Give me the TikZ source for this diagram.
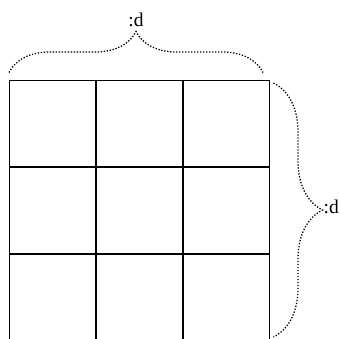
\documentclass[tikz,border=0pt]{standalone}
\usepackage{fontspec}
\setmainfont{Liberation Serif}
\usetikzlibrary{decorations.pathreplacing}
\begin{document}
\begin{tikzpicture}[x=1pt,y=1pt,
  gridline/.style={line width=1.7pt, line cap=rect},
  dotbrace/.style={decorate, line width=1.3pt, dash pattern=on 1.3pt off 1.7pt, line cap=butt},
  lbl/.style={inner sep=0pt, font=\fontsize{19.5}{22}\selectfont}]
\useasboundingbox (0,0) rectangle (339,338);
\begin{scope}
\clip (0,0) rectangle (339,338);
% grid lines
\foreach \x in {9.5,96.2,182.9,269.5}
  \draw[gridline] (\x,-4) -- (\x,257.5);
\foreach \y in {257.5,170.8,84.1}
  \draw[gridline] (9.5,\y) -- (269.5,\y);
\end{scope}
% braces
\coordinate (tl) at (9,265.5);
\coordinate (tr) at (263,265.5);
\coordinate (rt) at (273.5,255);
\coordinate (rb) at (273.5,1);
\draw[dotbrace, decoration={brace, amplitude=41pt}] (tl) -- (tr);
\draw[dotbrace, decoration={brace, amplitude=49pt}] (rt) -- (rb);
\node[lbl, anchor=base] (topl) at (136,311) {:d};
\node[lbl, anchor=base west] (rightl) at (323.5,124.7) {:d};
\end{tikzpicture}
\end{document}
